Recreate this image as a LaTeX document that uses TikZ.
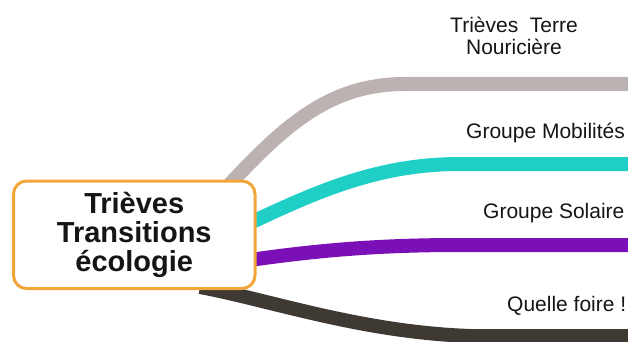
\documentclass[tikz,border=0pt]{standalone}
\usepackage{fontspec}
\setmainfont{Liberation Sans}
\usetikzlibrary{backgrounds}
\definecolor{cgray}{HTML}{BDB2B2}
\definecolor{cteal}{HTML}{1FCFC5}
\definecolor{cpurple}{HTML}{7B0FB8}
\definecolor{cdark}{HTML}{3E3932}
\definecolor{corange}{HTML}{F2A63A}
\definecolor{ctext}{HTML}{151515}
\begin{document}
\begin{tikzpicture}[x=1pt,y=-1pt,
  branch/.style={line width=14pt},
  lbl/.style={font=\fontsize{21}{22}\selectfont, text=ctext, inner sep=0pt},
  root/.style={draw=corange, line width=3pt, rounded corners=13pt, fill=white,
    minimum width=241.5pt, minimum height=107.5pt, align=center, text=ctext,
    font=\bfseries\fontsize{29}{29}\selectfont, inner sep=0pt}]
\useasboundingbox (0,0) rectangle (628,342);
\node[root] (root) at (134.25,234.75) {Trièves\\Transitions\\écologie};
% labels
\node[lbl, anchor=base, align=center] (l1) at (514,55) {Trièves\ \ Terre\\Nouricière};
\node[lbl, anchor=base west] (l2) at (466,138) {Groupe Mobilités};
\node[lbl, anchor=base west] (l3) at (483,218) {Groupe Solaire};
\node[lbl, anchor=base west] (l4) at (507,311) {Quelle foire !};
% branch end points
\coordinate (gs) at (228,186);
\coordinate (gm) at (405,84);
\coordinate (ge) at (650,84);
\coordinate (ts) at (250,223);
\coordinate (tm) at (460,164);
\coordinate (te) at (650,164);
\coordinate (ps) at (250,260);
\coordinate (pm) at (460,245);
\coordinate (pe) at (650,245);
\coordinate (ds) at (200,287);
\coordinate (dm) at (470,336);
\coordinate (de) at (650,336);
\begin{scope}[on background layer]
\clip (0,0) rectangle (628,342);
\draw[branch, cgray] (gs) .. controls (285,125) and (330,84) .. (gm) -- (ge);
\draw[branch, cteal] (ts) .. controls (320,190) and (380,164) .. (tm) -- (te);
\draw[branch, cpurple] (ps) .. controls (320,250) and (380,245) .. (pm) -- (pe);
\draw[branch, cdark] (ds) .. controls (270,300) and (360,332) .. (dm) -- (de);
\end{scope}
\end{tikzpicture}
\end{document}
